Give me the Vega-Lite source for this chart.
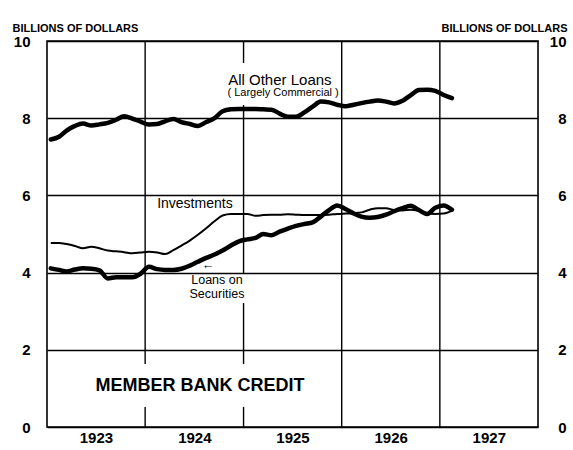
{
  "$schema": "https://vega.github.io/schema/vega-lite/v6.json",
  "width": 491,
  "height": 386,
  "autosize": "none",
  "padding": {"left": 47, "top": 41, "right": 35, "bottom": 23},
  "background": "white",
  "config": {
    "view": {"stroke": "black", "strokeWidth": 1.6},
    "font": "Liberation Sans"
  },
  "datasets": {
    "credit": [
      {"date": "1923-01-15", "other": 7.45, "invest": 4.77, "secur": 4.11},
      {"date": "1923-02-15", "other": 7.52, "invest": 4.77, "secur": 4.07},
      {"date": "1923-03-15", "other": 7.68, "invest": 4.74, "secur": 4.03},
      {"date": "1923-04-15", "other": 7.8, "invest": 4.69, "secur": 4.08},
      {"date": "1923-05-15", "other": 7.86, "invest": 4.63, "secur": 4.11},
      {"date": "1923-06-15", "other": 7.81, "invest": 4.67, "secur": 4.1},
      {"date": "1923-07-15", "other": 7.84, "invest": 4.63, "secur": 4.06},
      {"date": "1923-08-15", "other": 7.88, "invest": 4.57, "secur": 3.85},
      {"date": "1923-09-15", "other": 7.96, "invest": 4.55, "secur": 3.88},
      {"date": "1923-10-15", "other": 8.05, "invest": 4.53, "secur": 3.88},
      {"date": "1923-11-15", "other": 7.99, "invest": 4.5, "secur": 3.88},
      {"date": "1923-12-15", "other": 7.91, "invest": 4.52, "secur": 3.97},
      {"date": "1924-01-15", "other": 7.84, "invest": 4.54, "secur": 4.15},
      {"date": "1924-02-15", "other": 7.85, "invest": 4.52, "secur": 4.09},
      {"date": "1924-03-15", "other": 7.92, "invest": 4.48, "secur": 4.07},
      {"date": "1924-04-15", "other": 7.98, "invest": 4.58, "secur": 4.07},
      {"date": "1924-05-15", "other": 7.9, "invest": 4.7, "secur": 4.1},
      {"date": "1924-06-15", "other": 7.85, "invest": 4.83, "secur": 4.18},
      {"date": "1924-07-15", "other": 7.8, "invest": 4.98, "secur": 4.28},
      {"date": "1924-08-15", "other": 7.9, "invest": 5.15, "secur": 4.38},
      {"date": "1924-09-15", "other": 8.0, "invest": 5.33, "secur": 4.47},
      {"date": "1924-10-15", "other": 8.18, "invest": 5.48, "secur": 4.57},
      {"date": "1924-11-15", "other": 8.23, "invest": 5.52, "secur": 4.7},
      {"date": "1924-12-15", "other": 8.24, "invest": 5.52, "secur": 4.81},
      {"date": "1925-01-15", "other": 8.24, "invest": 5.52, "secur": 4.86},
      {"date": "1925-02-15", "other": 8.24, "invest": 5.47, "secur": 4.9},
      {"date": "1925-03-15", "other": 8.23, "invest": 5.49, "secur": 5.0},
      {"date": "1925-04-15", "other": 8.22, "invest": 5.5, "secur": 4.97},
      {"date": "1925-05-15", "other": 8.12, "invest": 5.5, "secur": 5.06},
      {"date": "1925-06-15", "other": 8.04, "invest": 5.51, "secur": 5.14},
      {"date": "1925-07-15", "other": 8.04, "invest": 5.5, "secur": 5.21},
      {"date": "1925-08-15", "other": 8.15, "invest": 5.49, "secur": 5.26},
      {"date": "1925-09-15", "other": 8.3, "invest": 5.49, "secur": 5.3},
      {"date": "1925-10-15", "other": 8.43, "invest": 5.49, "secur": 5.45},
      {"date": "1925-11-15", "other": 8.41, "invest": 5.5, "secur": 5.62},
      {"date": "1925-12-15", "other": 8.35, "invest": 5.52, "secur": 5.74},
      {"date": "1926-01-15", "other": 8.31, "invest": 5.53, "secur": 5.65},
      {"date": "1926-02-15", "other": 8.35, "invest": 5.54, "secur": 5.53},
      {"date": "1926-03-15", "other": 8.39, "invest": 5.56, "secur": 5.45},
      {"date": "1926-04-15", "other": 8.43, "invest": 5.63, "secur": 5.42},
      {"date": "1926-05-15", "other": 8.46, "invest": 5.67, "secur": 5.44},
      {"date": "1926-06-15", "other": 8.43, "invest": 5.67, "secur": 5.5},
      {"date": "1926-07-15", "other": 8.38, "invest": 5.62, "secur": 5.59},
      {"date": "1926-08-15", "other": 8.45, "invest": 5.61, "secur": 5.67},
      {"date": "1926-09-15", "other": 8.6, "invest": 5.63, "secur": 5.73},
      {"date": "1926-10-15", "other": 8.73, "invest": 5.6, "secur": 5.62},
      {"date": "1926-11-15", "other": 8.74, "invest": 5.54, "secur": 5.52},
      {"date": "1926-12-15", "other": 8.71, "invest": 5.52, "secur": 5.68},
      {"date": "1927-01-15", "other": 8.6, "invest": 5.53, "secur": 5.74},
      {"date": "1927-02-15", "other": 8.52, "invest": 5.6, "secur": 5.63}
    ],
    "vgrid": [
      {"date": "1924-01-01", "lo": 1.63, "hi": 10},
      {"date": "1924-01-01", "lo": 0, "hi": 0.52},
      {"date": "1925-01-01", "lo": 9.43, "hi": 10},
      {"date": "1925-01-01", "lo": 3.99, "hi": 8.34},
      {"date": "1925-01-01", "lo": 1.63, "hi": 3.21},
      {"date": "1925-01-01", "lo": 0, "hi": 0.52},
      {"date": "1926-01-01", "lo": 0, "hi": 10},
      {"date": "1927-01-01", "lo": 0, "hi": 10}
    ]
  },
  "resolve": {"axis": {"y": "independent"}},
  "layer": [
    {
      "data": {"name": "vgrid"},
      "mark": {"type": "rule", "color": "black", "strokeWidth": 1.4},
      "encoding": {
        "x": {
          "field": "date", "type": "temporal",
          "scale": {"domain": [{"year": 1923, "month": 1, "date": 1}, {"year": 1928, "month": 1, "date": 1}]},
          "axis": {
            "title": null, "grid": false, "ticks": false, "domain": false,
            "values": [{"year": 1923, "month": 7, "date": 2}, {"year": 1924, "month": 7, "date": 2}, {"year": 1925, "month": 7, "date": 2}, {"year": 1926, "month": 7, "date": 2}, {"year": 1927, "month": 7, "date": 2}],
            "format": "%Y", "labelFontSize": 15, "labelFontWeight": "bold", "labelColor": "black", "labelPadding": 3
          }
        },
        "y": {
          "field": "lo", "type": "quantitative",
          "scale": {"domain": [0, 10], "nice": false},
          "axis": {
            "orient": "left", "values": [0, 2, 4, 6, 8, 10], "grid": true, "gridColor": "black", "gridWidth": 1.4, "gridOpacity": 1,
            "ticks": false, "domain": false, "labelFontSize": 15, "labelFontWeight": "bold", "labelColor": "black", "labelPadding": 17,
            "title": "BILLIONS OF DOLLARS", "titleAngle": 0, "titleX": -35, "titleY": -13, "titleAlign": "left", "titleBaseline": "middle",
            "titleFontSize": 11, "titleFontWeight": "bold", "titleColor": "black"
          }
        },
        "y2": {"field": "hi"}
      }
    },
    {
      "data": {"name": "credit"},
      "mark": {"type": "line", "color": "black", "strokeWidth": 4.5, "interpolate": "monotone", "strokeJoin": "round", "strokeCap": "round"},
      "encoding": {
        "x": {"field": "date", "type": "temporal"},
        "y": {
          "field": "other", "type": "quantitative",
          "scale": {"domain": [0, 10], "nice": false},
          "axis": {
            "orient": "right", "values": [0, 2, 4, 6, 8, 10], "grid": false, "ticks": false, "domain": false,
            "labelFontSize": 15, "labelFontWeight": "bold", "labelColor": "black", "labelPadding": 28, "labelAlign": "right",
            "title": "BILLIONS OF DOLLARS", "titleAngle": 0, "titleX": 29, "titleY": -13, "titleAlign": "right", "titleBaseline": "middle",
            "titleFontSize": 11, "titleFontWeight": "bold", "titleColor": "black"
          }
        }
      }
    },
    {
      "data": {"name": "credit"},
      "mark": {"type": "line", "color": "black", "strokeWidth": 2, "interpolate": "monotone", "strokeJoin": "round"},
      "encoding": {
        "x": {"field": "date", "type": "temporal"},
        "y": {"field": "invest", "type": "quantitative", "scale": {"domain": [0, 10], "nice": false}, "axis": null}
      }
    },
    {
      "data": {"name": "credit"},
      "mark": {"type": "line", "color": "black", "strokeWidth": 4.5, "interpolate": "monotone", "strokeJoin": "round", "strokeCap": "round"},
      "encoding": {
        "x": {"field": "date", "type": "temporal"},
        "y": {"field": "secur", "type": "quantitative", "scale": {"domain": [0, 10], "nice": false}, "axis": null}
      }
    },
    {
      "data": {"values": [
        {"date": "1925-05-16", "v": 8.99, "label": "All Other Loans"}
      ]},
      "mark": {"type": "text", "fontSize": 15, "color": "black", "baseline": "middle", "align": "center"},
      "encoding": {
        "x": {"field": "date", "type": "temporal"},
        "y": {"field": "v", "type": "quantitative", "scale": {"domain": [0, 10], "nice": false}, "axis": null},
        "text": {"field": "label"}
      }
    },
    {
      "data": {"values": [
        {"date": "1924-07-04", "v": 5.78, "label": "Investments"}
      ]},
      "mark": {"type": "text", "fontSize": 14, "color": "black", "baseline": "middle", "align": "center"},
      "encoding": {
        "x": {"field": "date", "type": "temporal"},
        "y": {"field": "v", "type": "quantitative", "scale": {"domain": [0, 10], "nice": false}, "axis": null},
        "text": {"field": "label"}
      }
    },
    {
      "data": {"values": [
        {"date": "1925-05-28", "v": 8.64, "label": "( Largely Commercial )"}
      ]},
      "mark": {"type": "text", "fontSize": 11, "color": "black", "baseline": "middle", "align": "center"},
      "encoding": {
        "x": {"field": "date", "type": "temporal"},
        "y": {"field": "v", "type": "quantitative", "scale": {"domain": [0, 10], "nice": false}, "axis": null},
        "text": {"field": "label"}
      }
    },
    {
      "data": {"values": [
        {"date": "1924-09-24", "v": 3.8, "label": "Loans on"},
        {"date": "1924-09-24", "v": 3.44, "label": "Securities"},
        {"date": "1924-08-22", "v": 4.2, "label": "←"}
      ]},
      "mark": {"type": "text", "fontSize": 12.5, "color": "black", "baseline": "middle", "align": "center"},
      "encoding": {
        "x": {"field": "date", "type": "temporal"},
        "y": {"field": "v", "type": "quantitative", "scale": {"domain": [0, 10], "nice": false}, "axis": null},
        "text": {"field": "label"}
      }
    },
    {
      "data": {"values": [
        {"date": "1924-07-23", "v": 1.06, "label": "MEMBER BANK CREDIT"}
      ]},
      "mark": {"type": "text", "fontSize": 18, "fontWeight": "bold", "color": "black", "baseline": "middle", "align": "center"},
      "encoding": {
        "x": {"field": "date", "type": "temporal"},
        "y": {"field": "v", "type": "quantitative", "scale": {"domain": [0, 10], "nice": false}, "axis": null},
        "text": {"field": "label"}
      }
    }
  ]
}
